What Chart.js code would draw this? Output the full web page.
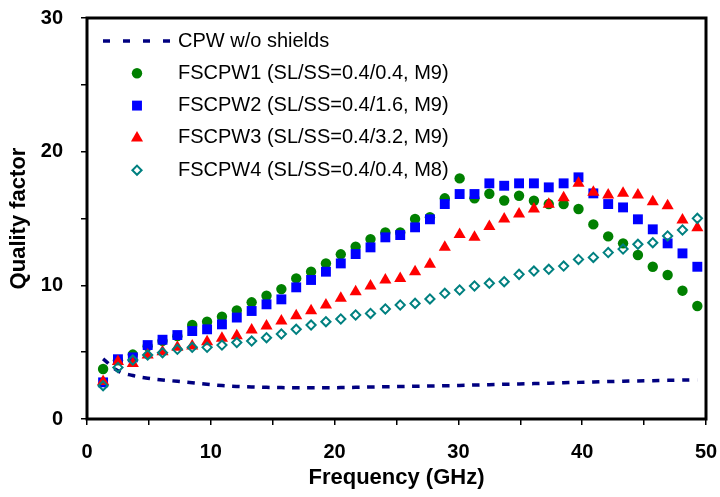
<!DOCTYPE html>
<html>
<head>
<meta charset="utf-8">
<script src="https://cdn.jsdelivr.net/npm/chart.js"></script>
<style>
  html, body { margin: 0; padding: 0; background: #fff; }
  #qChart { display: block; }
</style>
</head>
<body>
<canvas id="qChart" width="720" height="497"></canvas>
<script>
// Frequency sweep points (GHz)
const freqs = [1.3, 2.5, 3.7, 4.9, 6.1, 7.3, 8.5, 9.7, 10.9, 12.1, 13.3, 14.5, 15.7, 16.9,
    18.1, 19.3, 20.5, 21.7, 22.9, 24.1, 25.3, 26.5, 27.7, 28.9, 30.1, 31.3, 32.5, 33.7,
    34.9, 36.1, 37.3, 38.5, 39.7, 40.9, 42.1, 43.3, 44.5, 45.7, 46.9, 48.1, 49.3];

// Quality factor per structure
const q_cpw = [4.5, 3.6, 3.25, 3.05, 2.92, 2.82, 2.72, 2.6, 2.5, 2.44, 2.4, 2.37, 2.35, 2.34,
    2.34, 2.34, 2.35, 2.37, 2.39, 2.41, 2.43, 2.45, 2.47, 2.49, 2.51, 2.54, 2.57, 2.6,
    2.62, 2.65, 2.68, 2.71, 2.74, 2.77, 2.8, 2.83, 2.85, 2.87, 2.89, 2.91, 2.93];
const q_fscpw1 = [3.74, 4.4, 4.82, 5.45, 5.85, 6.2, 7.03, 7.28, 7.65, 8.12, 8.73, 9.22, 9.72, 10.52,
    11.02, 11.64, 12.32, 12.89, 13.46, 13.96, 13.96, 14.96, 15.09, 16.51, 18.0, 16.51, 16.85, 16.35,
    16.7, 16.33, 16.08, 16.08, 15.71, 14.56, 13.66, 13.14, 12.27, 11.39, 10.77, 9.6, 8.45];
const q_fscpw2 = [2.74, 4.47, 4.61, 5.53, 5.93, 6.28, 6.58, 6.71, 7.08, 7.59, 8.08, 8.58, 8.95, 9.85,
    10.4, 11.02, 11.64, 12.34, 12.84, 13.59, 13.76, 14.34, 14.94, 16.08, 16.83, 16.83, 17.63, 17.45,
    17.63, 17.63, 17.33, 17.63, 18.08, 16.88, 16.08, 15.83, 14.94, 14.19, 13.14, 12.39, 11.39];
const q_fscpw3 = [2.8, 4.3, 4.16, 4.79, 5.04, 5.36, 5.46, 5.78, 6.04, 6.22, 6.66, 6.96, 7.33, 7.73,
    8.1, 8.53, 9.03, 9.52, 9.95, 10.4, 10.52, 11.02, 11.57, 12.84, 13.81, 13.59, 14.4, 14.96,
    15.33, 15.71, 16.06, 16.55, 17.63, 16.96, 16.75, 16.88, 16.75, 16.25, 15.95, 14.88, 14.31];
const q_fscpw4 = [2.49, 3.86, 4.41, 4.79, 4.96, 5.21, 5.36, 5.36, 5.53, 5.72, 5.83, 6.08, 6.36, 6.71,
    7.03, 7.28, 7.48, 7.78, 7.9, 8.23, 8.53, 8.65, 8.98, 9.4, 9.65, 9.95, 10.15, 10.27,
    10.82, 11.07, 11.2, 11.44, 11.94, 12.09, 12.45, 12.71, 13.07, 13.19, 13.69, 14.14, 15.01];

const series_labels = [
    'CPW w/o shields',
    'FSCPW1 (SL/SS=0.4/0.4, M9)',
    'FSCPW2 (SL/SS=0.4/1.6, M9)',
    'FSCPW3 (SL/SS=0.4/3.2, M9)',
    'FSCPW4 (SL/SS=0.4/0.4, M8)'
];

const toPoints = (vals) => vals.map((v, i) => ({ x: freqs[i], y: v }));

Chart.defaults.font.family = "'Liberation Sans', Arial, sans-serif";
Chart.defaults.color = '#000';

// box around the plot area
const frameBox = {
    id: 'frameBox',
    afterDatasetsDraw(chart) {
        const { ctx, chartArea: a } = chart;
        ctx.save();
        ctx.strokeStyle = '#000';
        ctx.lineWidth = 3;
        ctx.strokeRect(a.left, a.top, a.right - a.left, a.bottom - a.top);
        ctx.restore();
    }
};

// legend inside the plot, drawn from the dataset styles
const innerLegend = {
    id: 'innerLegend',
    afterDraw(chart) {
        const ctx = chart.ctx;
        const markX = 137, textX = 178, rowY = 41, rowGap = 32.3;
        ctx.save();
        ctx.font = "20px 'Liberation Sans', Arial, sans-serif";
        ctx.textBaseline = 'middle';
        chart.data.datasets.forEach((ds, i) => {
            const y = rowY + i * rowGap;
            if (ds.showLine) {
                ctx.strokeStyle = ds.borderColor;
                ctx.lineWidth = ds.borderWidth;
                ctx.setLineDash([7, 13]);
                ctx.beginPath();
                ctx.moveTo(103, y);
                ctx.lineTo(171, y);
                ctx.stroke();
                ctx.setLineDash([]);
            } else {
                const r = ds.pointRadius;
                ctx.fillStyle = ds.pointBackgroundColor;
                ctx.strokeStyle = ds.pointBorderColor;
                ctx.lineWidth = ds.pointBorderWidth;
                ctx.beginPath();
                if (ds.pointStyle === 'circle') {
                    ctx.arc(markX, y, r, 0, Math.PI * 2);
                } else if (ds.pointStyle === 'rect') {
                    const s = r * Math.SQRT1_2;
                    ctx.rect(markX - s, y - s, 2 * s, 2 * s);
                } else if (ds.pointStyle === 'triangle') {
                    ctx.moveTo(markX, y - r);
                    ctx.lineTo(markX + r * 0.866, y + r / 2);
                    ctx.lineTo(markX - r * 0.866, y + r / 2);
                    ctx.closePath();
                } else {
                    ctx.moveTo(markX - r, y);
                    ctx.lineTo(markX, y - r);
                    ctx.lineTo(markX + r, y);
                    ctx.lineTo(markX, y + r);
                    ctx.closePath();
                }
                ctx.fill();
                if (ds.pointBorderWidth > 0) ctx.stroke();
            }
            ctx.fillStyle = '#000';
            ctx.fillText(ds.label, textX, y);
        });
        ctx.restore();
    }
};

const ctx = document.getElementById('qChart').getContext('2d');
const chart = new Chart(ctx, {
    type: 'scatter',
    data: {
        datasets: [
            {
                label: series_labels[0],
                data: toPoints(q_cpw),
                showLine: true,
                borderColor: '#000080',
                borderWidth: 3.5,
                borderDash: [7, 8],
                tension: 0.4,
                pointRadius: 0,
                order: 4
            },
            {
                label: series_labels[1],
                data: toPoints(q_fscpw1),
                pointStyle: 'circle',
                pointRadius: 5.2,
                pointBackgroundColor: '#008000',
                pointBorderColor: '#008000',
                pointBorderWidth: 0,
                order: 3
            },
            {
                label: series_labels[2],
                data: toPoints(q_fscpw2),
                pointStyle: 'rect',
                pointRadius: 7,
                pointBackgroundColor: '#0000ff',
                pointBorderColor: '#0000ff',
                pointBorderWidth: 0,
                order: 2
            },
            {
                label: series_labels[3],
                data: toPoints(q_fscpw3),
                pointStyle: 'triangle',
                pointRadius: 7,
                pointBackgroundColor: '#ff0000',
                pointBorderColor: '#ff0000',
                pointBorderWidth: 0,
                order: 1
            },
            {
                label: series_labels[4],
                data: toPoints(q_fscpw4),
                pointStyle: 'rectRot',
                pointRadius: 4.6,
                pointBackgroundColor: 'rgba(255,255,255,0)',
                pointBorderColor: '#008080',
                pointBorderWidth: 2,
                order: 0
            }
        ]
    },
    options: {
        responsive: false,
        animation: false,
        devicePixelRatio: 1,
        layout: { padding: { top: 18, right: 14, left: 0, bottom: 0 } },
        plugins: {
            legend: { display: false },
            tooltip: { enabled: false }
        },
        scales: {
            x: {
                type: 'linear',
                min: 0,
                max: 50,
                afterFit: (s) => {
                    s.height = 78;
                    s.paddingLeft = 0;
                    s.paddingRight = 0;
                },
                border: { display: false },
                grid: { drawOnChartArea: false, drawTicks: true, tickLength: 6, color: '#000', lineWidth: 1.5 },
                ticks: {
                    stepSize: 5,
                    autoSkip: false,
                    maxRotation: 0,
                    padding: 15,
                    font: { size: 20, weight: 'bold' },
                    callback: (v) => (v % 10 === 0 ? v : '')
                },
                title: {
                    display: true,
                    text: 'Frequency (GHz)',
                    font: { size: 22, weight: 'bold' },
                    padding: { top: 0, bottom: 6 }
                }
            },
            y: {
                type: 'linear',
                min: 0,
                max: 30,
                afterFit: (s) => {
                    s.width = 87;
                    s.paddingTop = 0;
                    s.paddingBottom = 0;
                },
                border: { display: false },
                grid: { drawOnChartArea: false, drawTicks: true, tickLength: 6, color: '#000', lineWidth: 1.5 },
                ticks: {
                    stepSize: 5,
                    autoSkip: false,
                    padding: 18,
                    font: { size: 20, weight: 'bold' },
                    callback: (v) => (v % 10 === 0 ? v : '')
                },
                title: {
                    display: true,
                    text: 'Quality factor',
                    font: { size: 22, weight: 'bold' },
                    padding: { top: 6, bottom: 0 }
                }
            }
        }
    },
    plugins: [frameBox, innerLegend]
});
</script>
</body>
</html>
